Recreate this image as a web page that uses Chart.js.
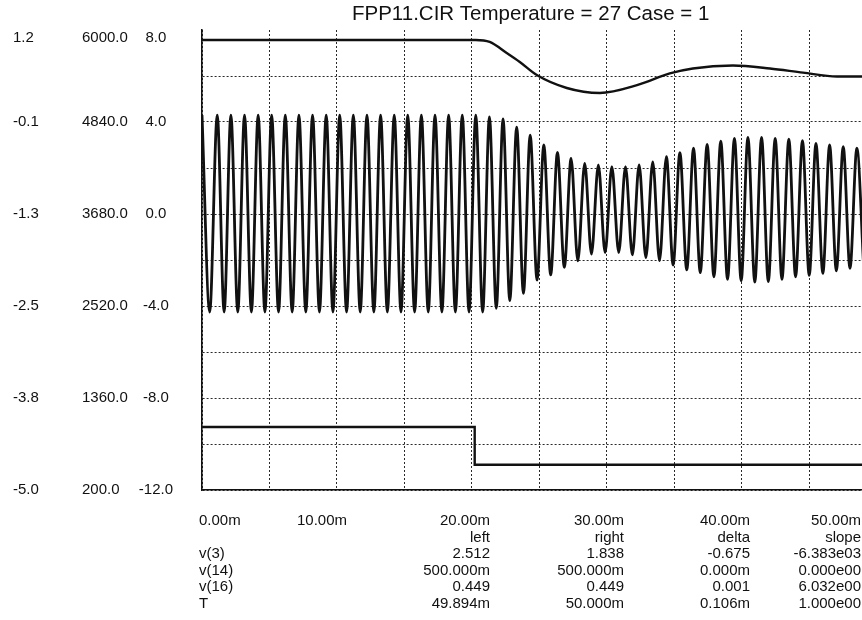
<!DOCTYPE html>
<html>
<head>
<meta charset="utf-8">
<script src="https://cdn.jsdelivr.net/npm/chart.js@4"></script>
<style>
  html, body { margin: 0; padding: 0; background: #fff; }
  #wrap { position: relative; width: 862px; height: 620px; overflow: hidden;
          font-family: "Liberation Sans", Arial, sans-serif; color: #111; }
  #chart { position: absolute; left: 0; top: 0; }
  .col { position: absolute; top: 512px; font-size: 15px; line-height: 16.6px; white-space: pre; }
</style>
</head>
<body>
<div id="wrap">
  <canvas id="chart" width="862" height="620"></canvas>
  <div id="table"></div>
</div>
<script>
// ==================== DATOS ====================
const titleText = 'FPP11.CIR Temperature = 27 Case = 1';

// etiquetas de los tres ejes verticales (de arriba a abajo)
const yLabelsA = ['1.2', '-0.1', '-1.3', '-2.5', '-3.8', '-5.0'];
const yLabelsB = ['6000.0', '4840.0', '3680.0', '2520.0', '1360.0', '200.0'];
const yLabelsC = ['8.0', '4.0', '0.0', '-4.0', '-8.0', '-12.0'];

// etiquetas del eje de tiempo
const xTickLabels = ['0.00m', '10.00m', '20.00m', '30.00m', '40.00m', '50.00m'];

// tabla de cursores
const rowNames = ['v(3)', 'v(14)', 'v(16)', 'T'];
const colHeads = ['left', 'right', 'delta', 'slope'];
const leftVals = ['2.512', '500.000m', '0.449', '49.894m'];
const rightVals = ['1.838', '500.000m', '0.449', '50.000m'];
const deltaVals = ['-0.675', '0.000m', '0.001', '0.106m'];
const slopeVals = ['-6.383e03', '0.000e00', '6.032e00', '1.000e00'];

// senoide: picos y valles (tiempo en ms)
const peakT = [0.00, 1.13, 2.14, 3.15, 4.16, 5.16, 6.17, 7.18, 8.19, 9.20,
  10.20, 11.21, 12.22, 13.23, 14.24, 15.24, 16.25, 17.26, 18.27, 19.28,
  20.28, 21.29, 22.30, 23.31, 24.31, 25.32, 26.33, 27.34, 28.35, 29.36,
  30.36, 31.37, 32.38, 33.39, 34.40, 35.40, 36.41, 37.42, 38.43, 39.44,
  40.44, 41.45, 42.46, 43.47, 44.48, 45.48, 46.49, 47.50, 48.51];
const peakV = [4.30, 4.30, 4.30, 4.30, 4.30, 4.30, 4.30, 4.30, 4.30, 4.30,
  4.30, 4.30, 4.30, 4.30, 4.30, 4.30, 4.30, 4.30, 4.30, 4.30,
  4.30, 4.22, 4.13, 3.78, 3.43, 3.00, 2.68, 2.42, 2.20, 2.13,
  2.06, 2.06, 2.13, 2.27, 2.49, 2.67, 2.86, 3.03, 3.17, 3.29,
  3.33, 3.33, 3.29, 3.25, 3.19, 3.07, 3.00, 2.93, 2.86];
const troughT = [0.57, 1.64, 2.65, 3.66, 4.66, 5.67, 6.68, 7.69, 8.70, 9.70,
  10.71, 11.72, 12.73, 13.73, 14.74, 15.75, 16.76, 17.77, 18.77, 19.78,
  20.79, 21.80, 22.80, 23.81, 24.82, 25.83, 26.84, 27.84, 28.85, 29.86,
  30.87, 31.88, 32.88, 33.89, 34.90, 35.91, 36.91, 37.92, 38.93, 39.94,
  40.95, 41.95, 42.96, 43.97, 44.98, 45.99, 46.99, 48.00, 49.01];
const troughV = [-4.26, -4.26, -4.26, -4.26, -4.26, -4.26, -4.26, -4.26, -4.26, -4.26,
  -4.26, -4.26, -4.26, -4.26, -4.26, -4.26, -4.26, -4.26, -4.26, -4.26,
  -4.26, -4.10, -3.77, -3.45, -2.87, -2.65, -2.32, -2.04, -1.74, -1.68,
  -1.68, -1.78, -1.90, -2.03, -2.22, -2.43, -2.55, -2.73, -2.84, -2.90,
  -2.96, -2.94, -2.84, -2.73, -2.67, -2.58, -2.47, -2.36, -2.25];

// traza superior
const freqT = [0, 20.27, 21.31, 22.57, 23.54, 24.80, 27.02, 29.47, 32.28, 34.65,
  36.36, 39.33, 42.07, 44.52, 47.04, 48.89];
const freqV = [5874, 5874, 5849, 5710, 5597, 5432, 5269, 5206, 5307, 5452,
  5515, 5552, 5515, 5462, 5414, 5414];

// escalón inferior
const stepT = [0, 20.2, 20.2, 48.89];
const stepV = [-4.15, -4.15, -4.66, -4.66];

// ==================== CONSTRUCCIÓN ====================
const sinePoints = [];
for (let i = 0; i < peakT.length; i++) {
  sinePoints.push({ x: peakT[i], y: peakV[i] });
  if (i < troughT.length) sinePoints.push({ x: troughT[i], y: troughV[i] });
}
const zip = (xs, ys) => xs.map((x, i) => ({ x: x, y: ys[i] }));

const FONT = '"Liberation Sans", Arial, sans-serif';
const INK = '#111';
const TOP_NUDGE = 8 / 460;   // la etiqueta superior va un poco por debajo del borde

// ticks ascendentes, el de arriba corrido unos px hacia abajo
function labelTicks(s, min, max) {
  const t = [];
  for (let i = 0; i <= 5; i++) {
    let v = min + i * (max - min) / 5;
    if (i === 5) v -= (max - min) * TOP_NUDGE;
    t.push({ value: v });
  }
  s.ticks = t;
}

function noPad(s, width) {
  s.width = width;
  s.paddingTop = 0;
  s.paddingBottom = 0;
}

function sideAxis(labels, min, max, width, weight) {
  return {
    type: 'linear',
    position: 'left',
    min: min,
    max: max,
    weight: weight,
    grid: { display: false, drawTicks: false },
    border: { display: false },
    afterBuildTicks: (s) => labelTicks(s, min, max),
    afterFit: (s) => noPad(s, width),
    ticks: {
      crossAlign: 'far',
      padding: 0,
      color: INK,
      font: { family: FONT, size: 15 },
      callback: (v, i) => labels[5 - i]
    }
  };
}

const titlePlugin = {
  id: 'plotTitle',
  afterDraw(chart) {
    const ctx = chart.ctx;
    ctx.save();
    ctx.font = '20.5px ' + FONT;
    ctx.fillStyle = INK;
    ctx.textAlign = 'left';
    ctx.textBaseline = 'middle';
    ctx.fillText(titleText, 352, 14);
    ctx.restore();
  }
};

const lineStyle = {
  borderColor: INK,
  pointRadius: 0,
  fill: false
};

new Chart(document.getElementById('chart').getContext('2d'), {
  type: 'line',
  data: {
    datasets: [
      Object.assign({ label: 'v(3)', data: sinePoints, yAxisID: 'yC', borderWidth: 2.8,
        cubicInterpolationMode: 'monotone' }, lineStyle),
      Object.assign({ label: 'v(16)', data: zip(freqT, freqV), yAxisID: 'yB', borderWidth: 2.4,
        cubicInterpolationMode: 'monotone' }, lineStyle),
      Object.assign({ label: 'v(14)', data: zip(stepT, stepV), yAxisID: 'yA', borderWidth: 2.4,
        tension: 0 }, lineStyle)
    ]
  },
  options: {
    responsive: false,
    animation: false,
    events: [],
    layout: { padding: { left: 13, top: 30, right: 0, bottom: 130 } },
    plugins: { legend: { display: false }, tooltip: { enabled: false }, title: { display: false } },
    scales: {
      x: {
        type: 'linear',
        min: 0,
        max: 48.89,
        afterBuildTicks: (s) => {
          s.ticks = [0, 5, 10, 15, 20, 25, 30, 35, 40, 45].map(v => ({ value: v }));
        },
        afterFit: (s) => { s.height = 0; },
        ticks: { display: false },
        grid: { color: '#2a2a2a', lineWidth: 1, drawTicks: false },
        border: { display: true, color: INK, width: 1.6, dash: [2, 2] }
      },
      yA: sideAxis(yLabelsA, -5.0, 1.2, 69, 3),
      yB: sideAxis(yLabelsB, 200, 6000, 49, 2),
      yC: {
        type: 'linear',
        position: 'left',
        min: -12,
        max: 8,
        weight: 1,
        afterBuildTicks: (s) => {
          const t = [];
          for (let v = -12; v < 8; v += 2) t.push({ value: v });
          t.push({ value: 8 - 20 * TOP_NUDGE });
          s.ticks = t;
        },
        afterFit: (s) => noPad(s, 71),
        grid: {
          drawTicks: false,
          lineWidth: 1,
          color: (c) => (c.tick && c.tick.value > 7 ? 'rgba(0,0,0,0)' : '#2a2a2a')
        },
        border: { display: true, color: INK, width: 1.6, dash: [2, 2] },
        ticks: {
          crossAlign: 'center',
          padding: 29,
          color: INK,
          font: { family: FONT, size: 15 },
          callback: (v, i) => (i % 2 === 0 ? yLabelsC[5 - i / 2] : '')
        }
      }
    }
  },
  plugins: [titlePlugin]
});

// ==================== TABLA ====================
const table = document.getElementById('table');

function addCol(lines, styleText) {
  const d = document.createElement('div');
  d.className = 'col';
  d.style.cssText = styleText;
  d.textContent = lines.join('\n');
  table.appendChild(d);
}

addCol([xTickLabels[0], ''].concat(rowNames), 'left:199px;');
addCol([xTickLabels[1]], 'left:297px;');
const colVals = [leftVals, rightVals, deltaVals, slopeVals];
const colRight = [490, 624, 750, 861];
colHeads.forEach((h, i) => {
  addCol([xTickLabels[i + 2], h].concat(colVals[i]),
    'right:' + (862 - colRight[i]) + 'px; text-align:right;');
});
</script>
</body>
</html>
